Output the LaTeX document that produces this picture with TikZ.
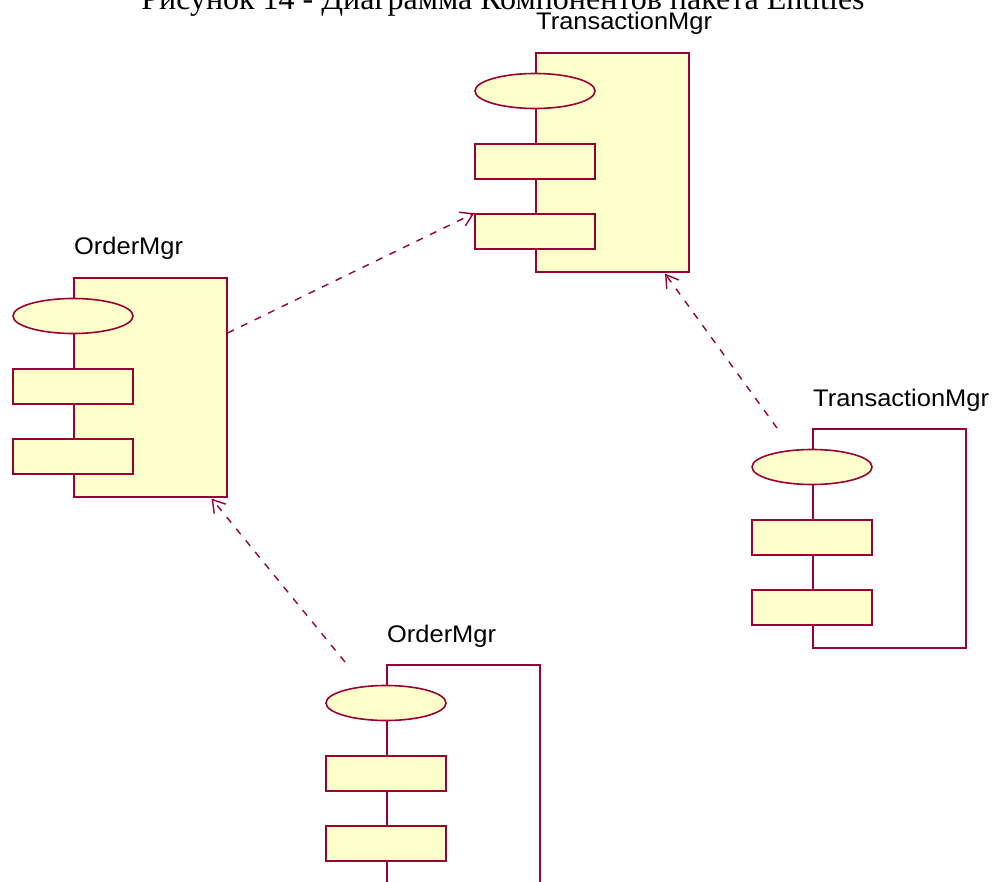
\documentclass[tikz,border=0pt]{standalone}
\usepackage{fontspec}
\setmainfont{Liberation Serif}
\newfontfamily\labelfont[FakeStretch=1.06]{Liberation Sans}
\usetikzlibrary{arrows.meta}
\usetikzlibrary{calc}
\usetikzlibrary{shapes.geometric}
\definecolor{umlred}{RGB}{153,0,51}
\definecolor{umlfill}{RGB}{255,255,204}
% #1 name, #2 left, #3 top, #4 label, #5 body fill
\newcommand\componentbox[5]{
  \node[body, fill=#5, anchor=north west] (#1) at (#2,#3) {};
  \node[iface] (#1Oval) at ($(#1.north west)+(0,39)$) {};
  \node[part] (#1PartA) at ($(#1.north west)+(0,109.5)$) {};
  \node[part] (#1PartB) at ($(#1.north west)+(0,179.5)$) {};
  \node[complabel] (#1Label) at ($(#1.north west)+(1,-22)$) {#4};
}

\begin{document}
\begin{tikzpicture}[
    x=1pt, y=-1pt,
    body/.style={
      draw=umlred, line width=1.6pt, inner sep=0pt,
      minimum width=153pt, minimum height=219pt
    },
    iface/.style={
      ellipse, draw=umlred, fill=umlfill, line width=1.6pt, inner sep=0pt,
      minimum width=120pt, minimum height=35pt
    },
    part/.style={
      draw=umlred, fill=umlfill, line width=1.6pt, inner sep=0pt,
      minimum width=120pt, minimum height=35pt
    },
    complabel/.style={
      anchor=base west, inner sep=0pt, font=\labelfont\fontsize{24}{24}\selectfont
    },
    depends/.style={
      draw=umlred, line width=1.4pt, dash pattern=on 7pt off 8pt,
      -{Straight Barb[length=12pt, width=15pt, line width=1.4pt]}
    }
  ]
    \useasboundingbox (0,0) rectangle (995,882);
    \clip (0,0) rectangle (995,882);

    \node[anchor=base, inner sep=0pt, font=\fontsize{32}{32}\selectfont] (title) at (503,10)
      {Рисунок 14 - Диаграмма Компонентов пакета Entities};

    \componentbox{transTop}{535}{52}{TransactionMgr}{umlfill}
    \componentbox{orderLeft}{73}{277}{OrderMgr}{umlfill}
    \componentbox{transRight}{812}{428}{TransactionMgr}{white}
    \componentbox{orderLow}{386}{664}{OrderMgr}{white}

    \coordinate (orderLeftOut) at ($(orderLeft.north east)+(0,56)$);
    \coordinate (transTopIn) at ($(transTop.south west)+(130,1)$);
    \coordinate (orderLeftIn) at ($(orderLeft.south east)+(-16,1)$);
    \coordinate (orderLowOut) at (345,662);
    \coordinate (transRightOut) at (777,428);

    \draw[depends] (orderLeftOut) -- (transTopPartB.north west);
    \draw[depends] (orderLowOut) -- (orderLeftIn);
    \draw[depends] (transRightOut) -- (transTopIn);
  \end{tikzpicture}
\end{document}
